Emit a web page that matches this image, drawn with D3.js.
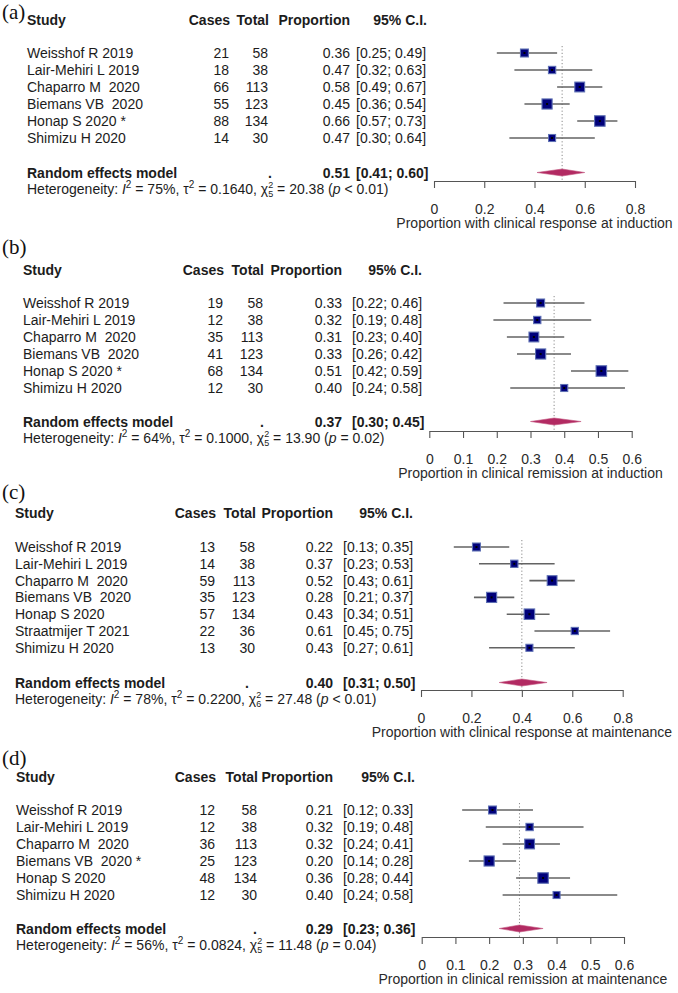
<!DOCTYPE html>
<html><head><meta charset="utf-8">
<script src="https://cdn.jsdelivr.net/npm/d3@7"></script>
<style>
body{margin:0;background:#fff;}
svg text{white-space:pre;}
</style></head>
<body>
<svg id="chart" width="678" height="993"></svg>
<script>
// ---------- DATA ----------
const studiesA = ["Weisshof R 2019","Lair-Mehiri L 2019","Chaparro M  2020","Biemans VB  2020","Honap S 2020 *","Shimizu H 2020"];
const casesA = [21,18,66,55,88,14];
const totalsA = [58,38,113,123,134,30];
const propA = [0.36,0.47,0.58,0.45,0.66,0.47];
const lowerA = [0.25,0.32,0.49,0.36,0.57,0.30];
const upperA = [0.49,0.63,0.67,0.54,0.73,0.64];
const pooledA = [0.51,0.41,0.60];
const hetA = ["75%","0.1640","5","20.38","< 0.01"];
const ticksA = [0,0.2,0.4,0.6,0.8];
const titleA = "Proportion with clinical response at induction";

const studiesB = ["Weisshof R 2019","Lair-Mehiri L 2019","Chaparro M  2020","Biemans VB  2020","Honap S 2020 *","Shimizu H 2020"];
const casesB = [19,12,35,41,68,12];
const totalsB = [58,38,113,123,134,30];
const propB = [0.33,0.32,0.31,0.33,0.51,0.40];
const lowerB = [0.22,0.19,0.23,0.26,0.42,0.24];
const upperB = [0.46,0.48,0.40,0.42,0.59,0.58];
const pooledB = [0.37,0.30,0.45];
const hetB = ["64%","0.1000","5","13.90","= 0.02"];
const ticksB = [0,0.1,0.2,0.3,0.4,0.5,0.6];
const titleB = "Proportion in clinical remission at induction";

const studiesC = ["Weisshof R 2019","Lair-Mehiri L 2019","Chaparro M  2020","Biemans VB  2020","Honap S 2020","Straatmijer T 2021","Shimizu H 2020"];
const casesC = [13,14,59,35,57,22,13];
const totalsC = [58,38,113,123,134,36,30];
const propC = [0.22,0.37,0.52,0.28,0.43,0.61,0.43];
const lowerC = [0.13,0.23,0.43,0.21,0.34,0.45,0.27];
const upperC = [0.35,0.53,0.61,0.37,0.51,0.75,0.61];
const pooledC = [0.40,0.31,0.50];
const hetC = ["78%","0.2200","6","27.48","< 0.01"];
const ticksC = [0,0.2,0.4,0.6,0.8];
const titleC = "Proportion with clinical response at maintenance";

const studiesD = ["Weisshof R 2019","Lair-Mehiri L 2019","Chaparro M  2020","Biemans VB  2020 *","Honap S 2020","Shimizu H 2020"];
const casesD = [12,12,36,25,48,12];
const totalsD = [58,38,113,123,134,30];
const propD = [0.21,0.32,0.32,0.20,0.36,0.40];
const lowerD = [0.12,0.19,0.24,0.14,0.28,0.24];
const upperD = [0.33,0.48,0.41,0.28,0.44,0.58];
const pooledD = [0.29,0.23,0.36];
const hetD = ["56%","0.0824","5","11.48","= 0.04"];
const ticksD = [0,0.1,0.2,0.3,0.4,0.5,0.6];
const titleD = "Proportion in clinical remission at maintenance";

const panelLabels = ["(a)","(b)","(c)","(d)"];

// ---------- LAYOUT ----------
const layouts = [
  {label:[2,19], header:20, row0:53, step:17, random:173, het:189, axisY:181,
   xStudy:27, casesR:229, totalR:268, dotX:270, propR:350, ciL:356, ciR:427, px:[434,635]},
  {label:[2,254], header:270, row0:303, step:17, random:422, het:438, axisY:431,
   xStudy:23, casesR:223, totalR:263, dotX:262, propR:342, ciL:352, ciR:422, px:[429.3,631.7]},
  {label:[2,499], header:513, row0:547, step:16.8, random:683, het:699, axisY:690,
   xStudy:15, casesR:215, totalR:255, dotX:247, propR:333, ciL:343, ciR:413, px:[421,622.7]},
  {label:[2,765], header:777, row0:810, step:17, random:929, het:945, axisY:937,
   xStudy:16, casesR:215, totalR:257, dotX:255, propR:333, ciL:343, ciR:415, px:[421.7,624]}
];

const panels = [
  {studies:studiesA,cases:casesA,totals:totalsA,prop:propA,lower:lowerA,upper:upperA,pooled:pooledA,het:hetA,ticks:ticksA,title:titleA},
  {studies:studiesB,cases:casesB,totals:totalsB,prop:propB,lower:lowerB,upper:upperB,pooled:pooledB,het:hetB,ticks:ticksB,title:titleB},
  {studies:studiesC,cases:casesC,totals:totalsC,prop:propC,lower:lowerC,upper:upperC,pooled:pooledC,het:hetC,ticks:ticksC,title:titleC},
  {studies:studiesD,cases:casesD,totals:totalsD,prop:propD,lower:lowerD,upper:upperD,pooled:pooledD,het:hetD,ticks:ticksD,title:titleD}
];

const FONT = "'Liberation Sans', Arial, sans-serif";
const FS = 14;
const TXT = "#1c1c1c";
const svg = d3.select("#chart");
const f2 = d3.format(".2f");

panels.forEach((p, i) => {
  const L = layouts[i];
  const g = svg.append("g").attr("font-family", FONT).attr("font-size", FS).attr("fill", TXT);
  const x = d3.scaleLinear().domain([0, d3.max(p.ticks)]).range(L.px);
  const yRow = d3.scaleLinear().domain([0, 1]).range([L.row0, L.row0 + L.step]);
  const size = d3.scaleLinear().domain([30, 134]).range([7, 10.5]).clamp(true);
  const bl = c => c + 5; // baseline from center

  // panel label
  svg.append("text").attr("x", L.label[0]).attr("y", L.label[1])
    .attr("font-family", "'Liberation Serif', 'Times New Roman', serif")
    .attr("font-size", 21).attr("fill", "#111").text(panelLabels[i]);

  // headers
  const hy = bl(L.header);
  g.append("text").attr("x", L.xStudy).attr("y", hy).attr("font-weight", "bold").text("Study");
  g.append("text").attr("x", L.casesR + 1).attr("y", hy).attr("font-weight", "bold").attr("text-anchor", "end").text("Cases");
  g.append("text").attr("x", L.totalR + 1).attr("y", hy).attr("font-weight", "bold").attr("text-anchor", "end").text("Total");
  g.append("text").attr("x", L.propR).attr("y", hy).attr("font-weight", "bold").attr("text-anchor", "end").text("Proportion");
  g.append("text").attr("x", L.ciR).attr("y", hy).attr("font-weight", "bold").attr("text-anchor", "end").text("95% C.I.");

  // study rows
  p.studies.forEach((s, k) => {
    const cy = yRow(k), by = bl(cy);
    g.append("text").attr("x", L.xStudy).attr("y", by).text(s);
    g.append("text").attr("x", L.casesR).attr("y", by).attr("text-anchor", "end").text(p.cases[k]);
    g.append("text").attr("x", L.totalR).attr("y", by).attr("text-anchor", "end").text(p.totals[k]);
    g.append("text").attr("x", L.propR).attr("y", by).attr("text-anchor", "end").text(f2(p.prop[k]));
    g.append("text").attr("x", L.ciL).attr("y", by).text(`[${f2(p.lower[k])}; ${f2(p.upper[k])}]`);
  });

  // random effects row
  const ry = bl(L.random);
  g.append("text").attr("x", L.xStudy).attr("y", ry).attr("font-weight", "bold").text("Random effects model");
  g.append("text").attr("x", L.dotX).attr("y", ry).attr("font-weight", "bold").attr("text-anchor", "middle").text(".");
  g.append("text").attr("x", L.propR).attr("y", ry).attr("font-weight", "bold").attr("text-anchor", "end").text(f2(p.pooled[0]));
  g.append("text").attr("x", L.ciL).attr("y", ry).attr("font-weight", "bold").text(`[${f2(p.pooled[1])}; ${f2(p.pooled[2])}]`);

  // heterogeneity
  const ht = g.append("text").attr("x", L.xStudy).attr("y", bl(L.het));
  ht.append("tspan").text("Heterogeneity: ");
  ht.append("tspan").attr("font-style", "italic").text("I");
  ht.append("tspan").attr("dy", -6).attr("font-size", 10).text("2");
  ht.append("tspan").attr("dy", 6).text(` = ${p.het[0]}, τ`);
  ht.append("tspan").attr("dy", -6).attr("font-size", 10).text("2");
  ht.append("tspan").attr("dy", 6).text(` = ${p.het[1]}, χ`);
  ht.append("tspan").attr("dy", -6).attr("font-size", 9).text("2");
  ht.append("tspan").attr("dx", -5).attr("dy", 9).attr("font-size", 9).text(p.het[2]);
  ht.append("tspan").attr("dy", -3).text(` = ${p.het[3]} (`);
  ht.append("tspan").attr("font-style", "italic").text("p");
  ht.append("tspan").text(` ${p.het[4]})`);

  // reference dotted line at pooled estimate
  svg.append("line")
    .attr("x1", x(p.pooled[0])).attr("x2", x(p.pooled[0]))
    .attr("y1", yRow(0) - 7).attr("y2", L.axisY)
    .attr("stroke", "#8a8a8a").attr("stroke-width", 1).attr("stroke-dasharray", "1.2,2.2");

  // CI lines and squares
  const pg = svg.append("g");
  p.studies.forEach((s, k) => {
    const cy = yRow(k);
    pg.append("line").attr("x1", x(p.lower[k])).attr("x2", x(p.upper[k]))
      .attr("y1", cy).attr("y2", cy).attr("stroke", "#636363").attr("stroke-width", 1.6);
    const sz = size(p.totals[k]);
    pg.append("rect").attr("x", x(p.prop[k]) - sz / 2).attr("y", cy - sz / 2)
      .attr("width", sz).attr("height", sz)
      .attr("fill", "#00007a").attr("stroke", "#5e70b4").attr("stroke-width", 1.1);
    pg.append("rect").attr("x", x(p.prop[k]) - 1).attr("y", cy - 1)
      .attr("width", 2).attr("height", 2).attr("fill", "#000");
  });

  // diamond
  const dy = L.random - 0.5, hh = 3.5;
  pg.append("path")
    .attr("d", `M${x(p.pooled[1])},${dy} L${x(p.pooled[0])},${dy - hh} L${x(p.pooled[2])},${dy} L${x(p.pooled[0])},${dy + hh} Z`)
    .attr("fill", "#b22a62").attr("stroke", "#c2557f").attr("stroke-width", 0.6);

  // axis
  const ax = svg.append("g").attr("transform", `translate(0,${L.axisY})`)
    .call(d3.axisBottom(x).tickValues(p.ticks).tickFormat(d => d3.format("")(+d.toFixed(1)))
      .tickSize(7).tickSizeOuter(0).tickPadding(16));
  ax.select(".domain").attr("stroke", "#555").attr("stroke-width", 1.1);
  ax.selectAll(".tick line").attr("stroke", "#555").attr("stroke-width", 1.1);
  ax.selectAll(".tick text").attr("font-family", FONT).attr("font-size", FS).attr("fill", "#2a2a2a");
  svg.append("text").attr("x", (L.px[0] + L.px[1]) / 2).attr("y", bl(L.axisY + 42))
    .attr("text-anchor", "middle").attr("font-family", FONT).attr("font-size", FS)
    .attr("fill", "#2a2a2a").text(p.title);
});
</script>
</body></html>
